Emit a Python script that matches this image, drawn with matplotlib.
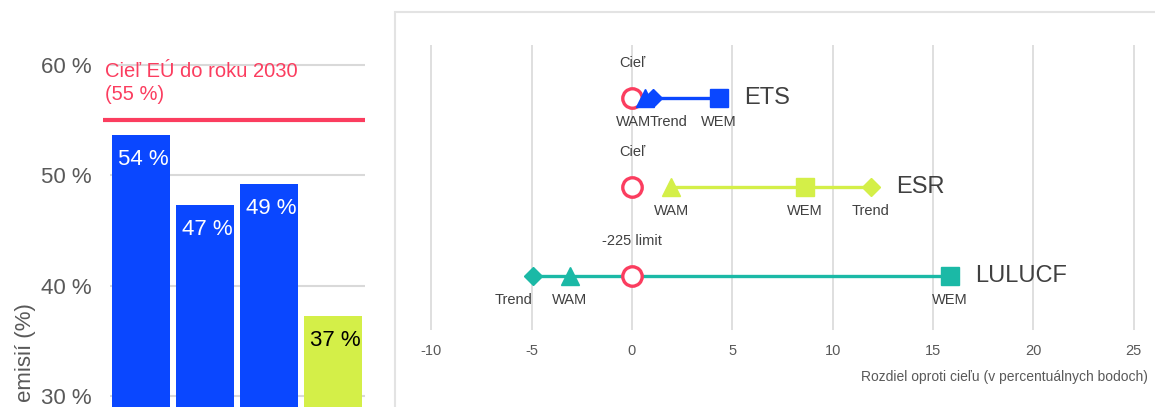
import matplotlib
matplotlib.use("Agg")
import matplotlib.pyplot as plt
import numpy as np
from matplotlib import font_manager
from matplotlib.patches import Rectangle

# left panel: emission reduction bars
bar_values = [53.6, 47.3, 49.2, 37.2]
bar_colors = ["#0a47ff", "#0a47ff", "#0a47ff", "#d4ef48"]
bar_text_colors = ["white", "white", "white", "black"]
eu_target = 55
eu_target_label = "Cieľ EÚ do roku 2030\n(55 %)"
left_yticks = [30, 40, 50, 60]

# right panel: gap to target (pp)
rows = ["ETS", "ESR", "LULUCF"]
target_labels = ["Cieľ", "Cieľ", "-225 limit"]
target_vals = [0, 0, 0]
wam_vals = [0.65, 1.95, -3.1]
trend_vals = [1.05, 11.9, -4.95]
wem_vals = [4.35, 8.6, 15.85]
row_colors = ["#0a47ff", "#d4ef48", "#1bb9a6"]
right_xticks = [-10, -5, 0, 5, 10, 15, 20, 25]

RED = "#fb3d5f"
GRID = "#d9d9d9"
TXT = "#595959"

names = {f.name for f in font_manager.fontManager.ttflist}
NARROW = "Liberation Sans Narrow" if "Liberation Sans Narrow" in names else "Liberation Sans"
plt.rcParams["font.family"] = ["Liberation Sans", "DejaVu Sans"]

W, H = 1155, 407
fig = plt.figure(figsize=(W / 100, H / 100), dpi=100)


def px_box(l, r, t, b):
    return [l / W, 1 - b / H, (r - l) / W, (b - t) / H]


# ---- left bar chart ----
ax = fig.add_axes(px_box(103, 365, 20, 407))
x = np.arange(len(bar_values))
ax.set_xlim(-0.594, 3.5)
ax.set_ylim(29.0, 64.05)
ax.hlines(left_yticks, -0.484, 3.5, color=GRID, lw=1.5, zorder=0)
bars = ax.bar(x, bar_values, width=0.9, color=bar_colors, zorder=2)
for b, v, c in zip(bars, bar_values, bar_text_colors):
    ax.annotate(f"{v:.0f} %", (b.get_x(), v), xytext=(4.5, -10),
                textcoords="offset points", ha="left", va="top",
                color=c, fontsize=16, zorder=3)
ax.axhline(eu_target, color=RED, lw=3, zorder=3)
ax.set_yticks(left_yticks)
ax.set_yticklabels([f"{t} %" for t in left_yticks])
ax.tick_params(axis="y", length=0, pad=8, labelsize=16, labelcolor=TXT)
ax.set_xticks([])
for s in ax.spines.values():
    s.set_visible(False)
fig.text(105 / W, 1 - 62 / H, eu_target_label, color=RED, fontsize=14.5,
         family=NARROW, ha="left", va="top", linespacing=1.3)
fig.text(25 / W, 1 - 303 / H, "emisií (%)", rotation=90, color=TXT,
         fontsize=16, ha="center", va="top")

# ---- right dumbbell chart ----
fig.add_artist(Rectangle((395 / W, -0.1), 1.0, 1 - 12 / H + 0.1,
                         transform=fig.transFigure, fill=False,
                         edgecolor="#e3e3e3", lw=1.5))
ax2 = fig.add_axes(px_box(412, 1152, 45, 330))
ax2.set_xlim((412 - 632) / 20.06, (1152 - 632) / 20.06)
ax2.set_ylim(2.607, -0.596)
for t in right_xticks:
    ax2.axvline(t, color=GRID, lw=1.2, zorder=0)

label_nudge = {(0, "WAM"): -8, (0, "Trend"): 11, (2, "Trend"): -14}
lab_kw = dict(textcoords="offset points", ha="center", fontsize=10.5,
              family=NARROW, color="#404040")
for i, row in enumerate(rows):
    c = row_colors[i]
    pts = {"WAM": wam_vals[i], "Trend": trend_vals[i], "WEM": wem_vals[i]}
    lo, hi = min(pts.values()), max(pts.values())
    ax2.plot([lo, hi], [i, i], color=c, lw=2.4, zorder=2)
    ax2.plot(target_vals[i], i, "o", ms=14, mfc="white", mec=RED, mew=2.4,
             zorder=3)
    ax2.plot(pts["WAM"], i, "^", ms=13, color=c, zorder=4)
    ax2.plot(pts["Trend"], i, "D", ms=9.5, color=c, zorder=4)
    ax2.plot(pts["WEM"], i, "s", ms=13, color=c, zorder=4)
    ax2.annotate(target_labels[i], (target_vals[i], i), xytext=(0, 20),
                 va="bottom", **lab_kw)
    for name, v in pts.items():
        dx = label_nudge.get((i, name), 0)
        ax2.annotate(name, (v, i), xytext=(dx, -12), va="top", **lab_kw)
    ax2.annotate(row, (hi, i), xytext=(18, 0), textcoords="offset points",
                 ha="left", va="center", fontsize=17, family=NARROW,
                 color="#404040")

ax2.set_xticks(right_xticks)
ax2.set_xticklabels([str(t) for t in right_xticks])
ax2.tick_params(axis="x", length=0, pad=10, labelsize=10.5, labelcolor=TXT)
ax2.set_yticks([])
for s in ax2.spines.values():
    s.set_visible(False)
fig.text(1148 / W, 1 - 377 / H, "Rozdiel oproti cieľu (v percentuálnych bodoch)",
         ha="right", va="center", fontsize=10, family=NARROW, color=TXT)

fig.savefig("out.png", dpi=100)
